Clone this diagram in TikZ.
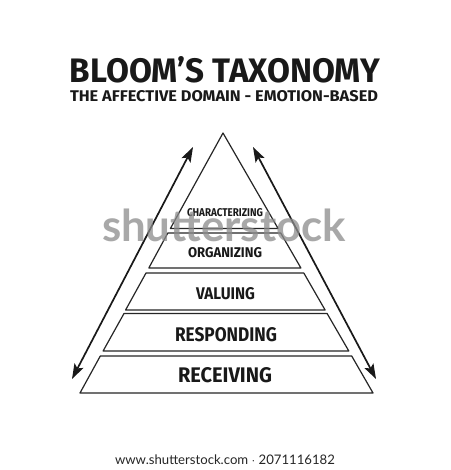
\documentclass[tikz,border=0pt]{standalone}
\usepackage{fontspec}
\setmainfont{Fira Sans}
\newfontfamily\wmfont{Lato}
\usetikzlibrary{arrows.meta}
\begin{document}
\begin{tikzpicture}[x=1pt,y=-1pt,
  edge/.style={line width=1.2pt, draw=black!85, line join=round},
  bigarrow/.style={line width=1.7pt, draw=black!90, {Stealth[length=15pt,width=10pt,inset=3pt]}-{Stealth[length=15pt,width=10pt,inset=3pt]}},
  lbl/.style={inner sep=0pt, font=\bfseries, text=black!90},
  wm/.style={inner sep=0pt, font=\wmfont\bfseries, text=black!45, opacity=0.75}]
\useasboundingbox[fill=white] (0,0) rectangle (450,470);
% title
\node[lbl] (title) at (225,70) {\resizebox{310pt}{26pt}{BLOOM'S TAXONOMY}};
\node[lbl] (sub) at (224,96) {\resizebox{308pt}{11pt}{THE AFFECTIVE DOMAIN - EMOTION-BASED}};
% pyramid coordinates
\coordinate (A) at (223,133);
\coordinate (BL) at (80,393);
\coordinate (BR) at (373,393);
% top piece
\draw[edge] (A) -- (170.4,228.5) -- (278.1,228.5) -- cycle;
% layers
\draw[edge] (167.8,233) -- (148.8,268) -- (300.9,268) -- (280.7,233) -- cycle;
\draw[edge] (146.0,273) -- (125.6,310) -- (325.1,310) -- (303.8,273) -- cycle;
\draw[edge] (124.0,313.5) -- (103.1,351) -- (348.8,351) -- (327.1,313.5) -- cycle;
\draw[edge] (100.3,356) -- (BL) -- (BR) -- (351.7,356) -- cycle;
% labels
\node[lbl] (l5) at (225,212.5) {\resizebox{76pt}{8pt}{CHARACTERIZING}};
\node[lbl] (l4) at (225,253) {\resizebox{74pt}{10pt}{ORGANIZING}};
\node[lbl] (l3) at (225.5,294) {\resizebox{59pt}{12pt}{VALUING}};
\node[lbl] (l2) at (226,335) {\resizebox{102pt}{14pt}{RESPONDING}};
\node[lbl] (l1) at (225,375) {\resizebox{94pt}{15pt}{RECEIVING}};
% arrows
\coordinate (la) at (193,147);
\coordinate (lb) at (72,379);
\coordinate (ra) at (253,147);
\coordinate (rb) at (376,379);
\draw[bigarrow] (la) -- (lb);
\draw[bigarrow] (ra) -- (rb);
% watermark
\node[wm] (wmk) at (224,225) {\resizebox{244pt}{!}{\fontsize{40pt}{40pt}\selectfont shutterstock}};
\node[inner sep=0pt, font=\wmfont, text=black!85] (foot) at (225,460) {\resizebox{220pt}{!}{www.shutterstock.com $\cdot$ 2071116182}};
\end{tikzpicture}
\end{document}
